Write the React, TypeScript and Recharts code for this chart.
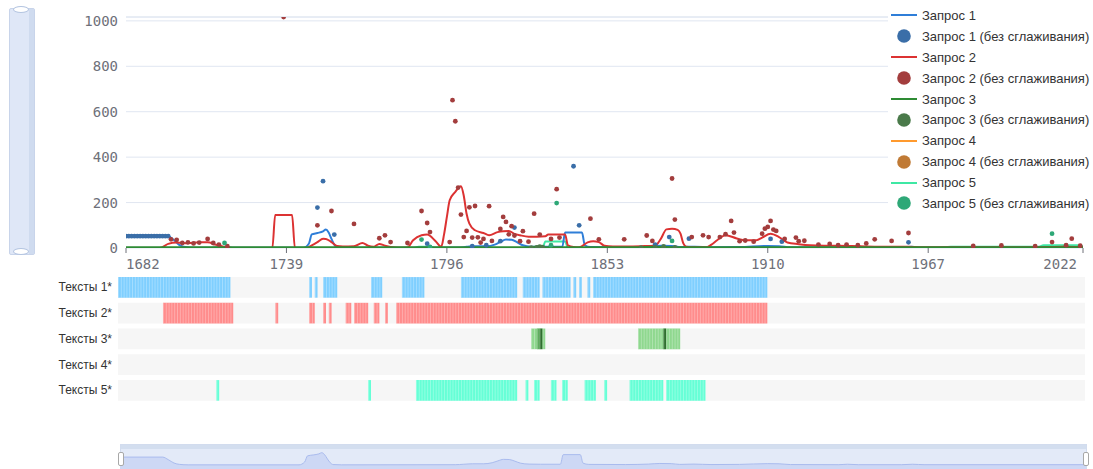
import {
  ComposedChart,
  AreaChart,
  Area,
  Line,
  Scatter,
  XAxis,
  YAxis,
  CartesianGrid,
  Legend,
  ReferenceLine,
  ReferenceArea,
} from "recharts";

// x axis + value axis
const yearTicks = [1682, 1739, 1796, 1853, 1910, 1967, 2022];
const valueTicks = [0, 200, 400, 600, 800, 1000];

// smoothed series, [year, value]
const query1Line = [
  [1682, 52], [1697, 52], [1699, 35], [1701, 13], [1703, 4], [1706, 1], [1745, 1],
  [1747, 20], [1748, 60], [1750, 66], [1752, 73], [1753, 81], [1754, 68], [1755, 40],
  [1756, 15], [1757, 3], [1760, 1], [1800, 2], [1803, 5], [1806, 8], [1810, 8],
  [1813, 15], [1815, 27], [1817, 37], [1819, 36], [1821, 25], [1823, 12], [1826, 6],
  [1830, 5], [1837, 5], [1838, 68], [1844, 68], [1845, 12], [1847, 4], [1860, 3],
  [1868, 6], [1872, 10], [1876, 9], [1879, 4], [1884, 6], [1890, 3], [1900, 4],
  [1910, 9], [1914, 8], [1918, 3], [1935, 2], [1938, 5], [1942, 2], [1957, 2],
  [1961, 5], [1965, 2], [2022, 2],
];
const query2Line = [
  [1682, 0], [1694, 0], [1697, 18], [1700, 24], [1704, 21], [1708, 25], [1711, 25],
  [1714, 14], [1717, 5], [1720, 0], [1734, 0], [1735, 145], [1741, 145], [1742, 0],
  [1746, 0], [1748, 12], [1750, 26], [1752, 41], [1753, 40], [1755, 26], [1757, 9],
  [1759, 7], [1763, 8], [1766, 22], [1768, 10], [1770, 6], [1772, 18], [1774, 10],
  [1776, 4], [1779, 1], [1782, 2], [1784, 34], [1787, 56], [1789, 59], [1792, 30],
  [1794, 6], [1795, 60], [1796, 137], [1797, 210], [1799, 247], [1801, 272], [1802, 230],
  [1803, 151], [1804, 107], [1806, 78], [1809, 66], [1811, 56], [1814, 70], [1816, 74],
  [1818, 75], [1820, 62], [1822, 56], [1825, 50], [1828, 50], [1831, 52], [1832, 59],
  [1838, 59], [1839, 12], [1841, 4], [1843, 3], [1846, 25], [1848, 30], [1850, 26],
  [1852, 10], [1855, 7], [1860, 7], [1865, 8], [1870, 10], [1872, 40], [1874, 82],
  [1876, 85], [1878, 80], [1879, 63], [1880, 20], [1881, 6], [1884, 3], [1888, 3],
  [1890, 15], [1892, 34], [1895, 56], [1899, 42], [1902, 34], [1906, 34], [1908, 46],
  [1911, 63], [1914, 48], [1917, 24], [1921, 17], [1925, 12], [1930, 10], [1935, 10],
  [1940, 9], [1945, 7], [1950, 6], [1955, 6], [1960, 5], [1965, 3], [1985, 3],
  [2005, 3], [2015, 5], [2022, 4],
];
const query3Line = [
  [1682, 1], [1825, 1], [1828, 4], [1831, 1], [1863, 1], [1870, 3], [1879, 1], [2022, 1],
];
const query4Line = [[1682, 0], [2022, 0]];
const query5Line = [
  [1682, 0], [1712, 0], [1714, 3], [1718, 3], [1720, 0], [1784, 0], [1786, 5],
  [1790, 5], [1792, 0], [1830, 0], [1831, 29], [1838, 29], [1839, 0], [1860, 0],
  [1862, 4], [1878, 4], [1880, 0], [1970, 0], [1975, 5], [2006, 5], [2008, 12],
  [2020, 12], [2022, 8],
];

// raw yearly values (без сглаживания)
const query1Dots = [
  [1682, 52], [1683, 52], [1684, 52], [1685, 52], [1686, 52], [1687, 52], [1688, 52],
  [1689, 52], [1690, 52], [1691, 52], [1692, 52], [1693, 52], [1694, 52], [1695, 52],
  [1696, 52], [1697, 52], [1750, 178], [1752, 294], [1756, 59], [1789, 19], [1805, 8],
  [1810, 12], [1815, 30], [1820, 90], [1841, 360], [1843, 100], [1870, 15], [1875, 48],
  [1882, 41], [1911, 40], [1915, 28], [1960, 25],
];
const query2Dots = [
  [1698, 38], [1700, 36], [1702, 22], [1704, 25], [1706, 20], [1708, 24], [1711, 40],
  [1713, 22], [1715, 15], [1718, 8], [1738, 1017], [1750, 100], [1755, 163], [1763, 106],
  [1772, 43], [1774, 56], [1776, 26], [1782, 22], [1787, 163], [1789, 110], [1790, 70],
  [1797, 26], [1798, 651], [1799, 558], [1800, 266], [1801, 147], [1802, 48], [1803, 75],
  [1804, 179], [1805, 46], [1806, 185], [1807, 47], [1808, 24], [1809, 40], [1811, 184],
  [1812, 31], [1815, 84], [1816, 137], [1817, 115], [1818, 60], [1819, 96], [1820, 55],
  [1822, 30], [1823, 74], [1825, 28], [1827, 151], [1829, 59], [1833, 40], [1835, 259],
  [1836, 46], [1847, 129], [1850, 38], [1859, 38], [1867, 55], [1869, 31], [1876, 306],
  [1877, 125], [1883, 48], [1887, 56], [1889, 48], [1893, 48], [1895, 61], [1897, 119],
  [1898, 68], [1900, 30], [1902, 33], [1905, 28], [1908, 63], [1909, 85], [1910, 93],
  [1911, 119], [1912, 81], [1913, 75], [1916, 40], [1920, 46], [1921, 30], [1923, 32],
  [1928, 15], [1932, 18], [1935, 12], [1938, 15], [1942, 12], [1945, 20], [1948, 38],
  [1954, 31], [1960, 66], [1983, 9], [1993, 11], [2005, 8], [2011, 26], [2016, 12],
  [2018, 41], [2021, 10],
];
const query3Dots = [
  [1826, 2], [1828, 3], [1829, 6], [1830, 4], [1865, 2], [1870, 3], [1873, 7], [1877, 3],
];
const query4Dots: number[][] = [];
const query5Dots = [
  [1717, 22], [1787, 37], [1790, 5], [1833, 12], [1835, 198], [1876, 31], [2011, 63],
];

// text presence rows, [fromYear, toYear)
const rowLabels = ["Тексты 1*", "Тексты 2*", "Тексты 3*", "Тексты 4*", "Тексты 5*"];
const texts1 = [
  [1679, 1719], [1747, 1748], [1749, 1750], [1752, 1757], [1769, 1773], [1780, 1788],
  [1801, 1821], [1823, 1829], [1830, 1840], [1841, 1842], [1843, 1844], [1846, 1847],
  [1848, 1910],
];
const texts2 = [
  [1695, 1720], [1735, 1736], [1747, 1749], [1752, 1753], [1754, 1755], [1760, 1762],
  [1763, 1768], [1770, 1772], [1774, 1775], [1778, 1910],
];
const texts3 = [[1826, 1831], [1864, 1879]];
const texts3Peaks = [[1828, 1829, 2], [1829, 1830, 3], [1873, 1874, 3]];
const texts4: number[][] = [];
const texts5 = [
  [1714, 1715], [1768, 1769], [1785, 1821], [1824, 1825], [1827, 1829], [1833, 1835],
  [1837, 1839], [1845, 1849], [1852, 1853], [1861, 1873], [1874, 1888],
];

const toPoints = (arr: number[][]) => arr.map(([year, value]) => ({ year, value }));

const lineColors = ["#2f7ed8", "#dc3232", "#2e8b34", "#ff9a2e", "#3ee8a4"];
const dotColors = ["#3a6ea8", "#a33d3d", "#4a7a4a", "#c07a35", "#2ea877"];
const rowColors = ["#7fcfff", "#ff8c8c", "#8fd88f", "#c8a0e0", "#66ffd6"];
const peakColors: Record<number, string> = { 2: "#5fae5f", 3: "#2f6f2f" };

const axisFont = "'DejaVu Sans Mono', monospace";
const textFont = "'Liberation Sans', Arial, sans-serif";

const allValues = [query1Line, query2Line, query1Dots, query2Dots, query5Dots]
  .flat()
  .map((p) => p[1]);
const yMax = Math.max(...allValues);

const YearTick = ({ x, y, payload }: any) => {
  const v = payload.value;
  const anchor = v === yearTicks[0] ? "start" : v === yearTicks[yearTicks.length - 1] ? "end" : "middle";
  return (
    <text x={x} y={y} dy={14} textAnchor={anchor} fill="#6e7079" fontSize={14} fontFamily={axisFont}>
      {v}
    </text>
  );
};

const ValueTick = ({ x, y, payload }: any) => (
  <text x={x} y={y} dy={5} textAnchor="end" fill="#6e7079" fontSize={14} fontFamily={axisFont}>
    {payload.value}
  </text>
);

const RowTick = ({ x, y, payload }: any) => (
  <text x={x} y={y} dy={4} textAnchor="end" fill="#333" fontSize={12} fontFamily={textFont}>
    {rowLabels[Math.floor(payload.value)]}
  </text>
);

const dotShape = (color: string) => (props: any) =>
  <circle cx={props.cx} cy={props.cy} r={2.4} fill={color} />;

const LegendContent = ({ payload }: any) => {
  const items = [...(payload || [])].sort((a: any, b: any) =>
    String(a.value).localeCompare(String(b.value))
  );
  return (
    <div style={{ background: "#fff", fontFamily: textFont, fontSize: 13, color: "#333" }}>
      {items.map((item: any) => (
        <div key={item.value} style={{ height: 20.9, display: "flex", alignItems: "center" }}>
          <svg width={34} height={20} style={{ flex: "none" }}>
            {item.type === "circle" ? (
              <circle cx={16} cy={10} r={6.8} fill={item.color} />
            ) : (
              <line x1={3} x2={29} y1={10} y2={10} stroke={item.color} strokeWidth={2} />
            )}
          </svg>
          <span style={{ whiteSpace: "nowrap" }}>{item.value}</span>
        </div>
      ))}
    </div>
  );
};

const lines = [query1Line, query2Line, query3Line, query4Line, query5Line];
const dots = [query1Dots, query2Dots, query3Dots, query4Dots, query5Dots];
const lineOrder = [3, 4, 0, 1, 2];
const rows = [texts1, texts2, texts3, texts4, texts5];
const rowDomain = [1679, 2023];

export default function App() {
  const cellWidth = 967 / (rowDomain[1] - rowDomain[0]);

  return (
    <div style={{ position: "relative", width: 1093, height: 469, overflow: "hidden", background: "#fff", fontFamily: textFont }}>
      <style>{"body{margin:0}"}</style>

      {/* left value slider */}
      <div style={{ position: "absolute", left: 9, top: 8, width: 24, height: 245, background: "#dfe7f7", border: "1px solid #c8d4ea", borderRadius: 2 }}>
        <div style={{ position: "absolute", right: 0, top: 0, width: 5, height: "100%", background: "#cfdbef" }} />
      </div>
      <div style={{ position: "absolute", left: 13, top: 6, width: 14, height: 5, background: "#fff", border: "1px solid #b3c4e0", borderRadius: "50%" }} />
      <div style={{ position: "absolute", left: 13, top: 248, width: 14, height: 5, background: "#fff", border: "1px solid #b3c4e0", borderRadius: "50%" }} />

      {/* text presence rows */}
      <div style={{ position: "absolute", left: 0, top: 270 }}>
        <ComposedChart
          width={1093}
          height={140}
          margin={{ top: 4.5, right: 8, bottom: 6.75, left: 0 }}
          data={rowLabels.map((label, i) => ({ year: rowDomain[0], pos: i + 0.5, label }))}
        >
          <defs>
            <pattern id="yearCells" x={118} y={0} width={cellWidth} height={10} patternUnits="userSpaceOnUse">
              <rect x={0} y={0} width={0.6} height={10} fill="#fff" fillOpacity={0.45} />
            </pattern>
          </defs>
          <XAxis type="number" dataKey="year" domain={rowDomain} allowDataOverflow hide />
          <YAxis
            type="number"
            dataKey="pos"
            domain={[0, rowLabels.length]}
            reversed
            ticks={rowLabels.map((_, i) => i + 0.5)}
            width={118}
            axisLine={false}
            tickLine={false}
            tickSize={0}
            tickMargin={6}
            tick={RowTick}
          />
          {rowLabels.map((_, i) => (
            <ReferenceArea key={`bg${i}`} x1={rowDomain[0]} x2={rowDomain[1]} y1={i + 0.1} y2={i + 0.9} fill="#f6f6f6" fillOpacity={1} stroke="none" />
          ))}
          {rows.map((segs, i) =>
            segs.map(([from, to]) => (
              <ReferenceArea key={`s${i}-${from}`} x1={from} x2={to} y1={i + 0.1} y2={i + 0.9} fill={rowColors[i]} fillOpacity={1} stroke="none" />
            ))
          )}
          {texts3Peaks.map(([from, to, level]) => (
            <ReferenceArea key={`p${from}`} x1={from} x2={to} y1={2.1} y2={2.9} fill={peakColors[level]} fillOpacity={1} stroke="none" />
          ))}
          {rows.map((segs, i) =>
            segs.map(([from, to]) => (
              <ReferenceArea key={`t${i}-${from}`} x1={from} x2={to} y1={i + 0.1} y2={i + 0.9} fill="url(#yearCells)" fillOpacity={1} stroke="none" />
            ))
          )}
          <Scatter dataKey="pos" legendType="none" shape={() => <g />} isAnimationActive={false} />
        </ComposedChart>
      </div>

      <div style={{ position: "absolute", left: 0, top: 0 }}>
        <ComposedChart width={1093} height={280} margin={{ top: 17, right: 10, bottom: 0, left: 0 }}>
          <CartesianGrid vertical={false} stroke="#e0e6f1" />
          <ReferenceLine y={yMax} stroke="#e0e6f1" />
          <XAxis
            type="number"
            dataKey="year"
            domain={[yearTicks[0], yearTicks[yearTicks.length - 1]]}
            ticks={yearTicks}
            allowDataOverflow
            height={32}
            axisLine={false}
            tickLine={{ stroke: "#6e7079" }}
            tickSize={5}
            tick={YearTick}
          />
          <YAxis
            type="number"
            domain={[0, yMax]}
            ticks={valueTicks}
            allowDataOverflow
            width={126}
            axisLine={false}
            tickLine={false}
            tickSize={0}
            tickMargin={8}
            tick={ValueTick}
          />
          {lineOrder.map((i) => (
            <Line
              key={`line${i}`}
              data={toPoints(lines[i])}
              dataKey="value"
              name={`Запрос ${i + 1}`}
              type="monotone"
              stroke={lineColors[i]}
              strokeWidth={i === 2 ? 3 : 2}
              dot={false}
              activeDot={false}
              legendType="line"
              isAnimationActive={false}
            />
          ))}
          {dots.map((d, i) => (
            <Scatter
              key={`dots${i}`}
              data={toPoints(d)}
              dataKey="value"
              name={`Запрос ${i + 1} (без сглаживания)`}
              fill={dotColors[i]}
              shape={dotShape(dotColors[i])}
              legendType="circle"
              isAnimationActive={false}
            />
          ))}
          <Legend
            layout="horizontal"
            verticalAlign="middle"
            align="center"
            wrapperStyle={{ left: 888, top: 5, width: 205 }}
            content={LegendContent}
          />
        </ComposedChart>
      </div>

      {/* bottom range slider */}
      <div style={{ position: "absolute", left: 120, top: 444, width: 965, height: 30, background: "#e3eaf8", border: "1px solid #d2dcee" }}>
        <div style={{ position: "absolute", left: 0, top: 0, width: "100%", height: 4, background: "#d3deef" }} />
      </div>
      <div style={{ position: "absolute", left: 120, top: 449 }}>
        <AreaChart width={966} height={25} margin={{ top: 0, right: 0, bottom: 0, left: 0 }} data={toPoints(query1Line)}>
          <XAxis type="number" dataKey="year" domain={[yearTicks[0], yearTicks[yearTicks.length - 1]]} hide />
          <YAxis type="number" domain={[-59, 105]} allowDataOverflow hide />
          <Area
            type="monotone"
            dataKey="value"
            baseValue="dataMin"
            stroke="#a9bbee"
            strokeWidth={1}
            fill="#cdd8f5"
            fillOpacity={1}
            dot={false}
            activeDot={false}
            isAnimationActive={false}
          />
        </AreaChart>
      </div>
      <div style={{ position: "absolute", left: 118, top: 452, width: 4, height: 12, background: "#fff", border: "1px solid #a8a8a8", borderRadius: 2 }} />
      <div style={{ position: "absolute", left: 1083, top: 452, width: 4, height: 12, background: "#fff", border: "1px solid #a8a8a8", borderRadius: 2 }} />
    </div>
  );
}
